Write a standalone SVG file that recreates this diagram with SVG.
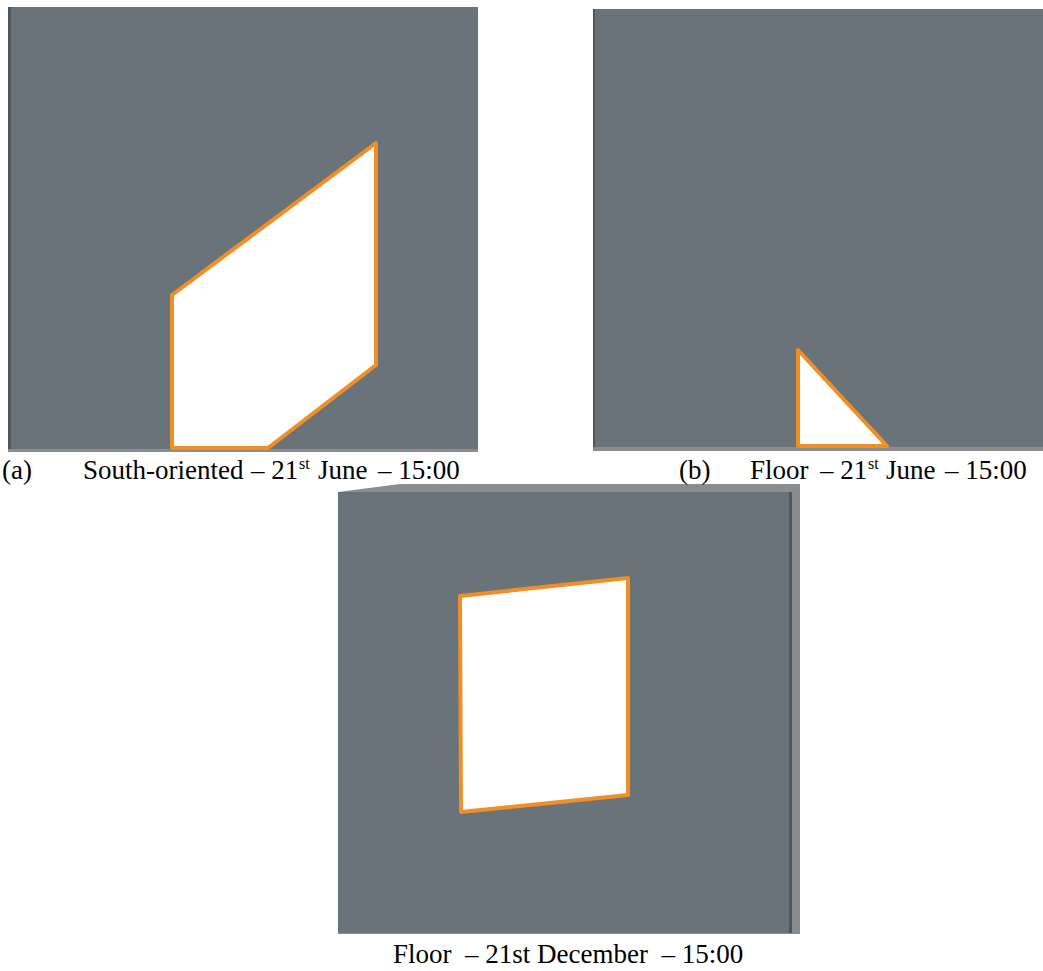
<svg xmlns="http://www.w3.org/2000/svg" width="1043" height="971" viewBox="0 0 1043 971">
<style>
.bg{fill:#6b737a}
.edge{fill:#4f565c}
.shadow{fill:#8a8c8e}
.sun{fill:#ffffff;stroke:#ef8f26;stroke-width:4;stroke-linejoin:round}
.t{font-family:"Liberation Serif",serif;font-size:27px;fill:#000}
.sup{font-family:"Liberation Serif",serif;font-size:16px;fill:#000}
</style>
<rect width="1043" height="971" fill="#ffffff"/>
<g id="panel-a">
<rect class="shadow" x="8" y="448" width="470" height="4"/>
<rect class="bg" x="8" y="7" width="470" height="442"/>
<rect class="edge" x="8" y="7" width="3" height="442"/>
<polygon class="sun" points="172,295 376,143 376,365 268,448 172,448"/>
</g>
<g id="panel-b">
<rect class="shadow" x="593" y="446" width="450" height="5"/>
<rect class="bg" x="593" y="9" width="450" height="438"/>
<rect class="edge" x="593" y="9" width="2" height="438"/>
<polygon class="sun" points="798,350 798,446 887,446"/>
</g>
<g id="panel-c">
<polygon class="shadow" points="338,492 400,484 800,484 800,934 338,934"/>
<rect class="bg" x="338" y="492" width="454" height="441"/>
<rect class="edge" x="789" y="492" width="3" height="441"/>
<polygon class="sun" points="460,596 628,578 628,795 461,812"/>
</g>
<g id="labels">
<text class="t" x="2" y="479">(a)</text>
<text class="t" x="83" y="479">South-oriented</text>
<text class="t" x="251" y="479">– 21</text>
<text class="sup" x="299" y="469">st</text>
<text class="t" x="318" y="479">June</text>
<text class="t" x="378" y="479">– 15:00</text>

<text class="t" x="679" y="479">(b)</text>
<text class="t" x="750" y="479">Floor</text>
<text class="t" x="820" y="479">– 21</text>
<text class="sup" x="868" y="469">st</text>
<text class="t" x="886" y="479">June</text>
<text class="t" x="945" y="479">– 15:00</text>

<text class="t" x="393" y="963" xml:space="preserve">Floor  – 21st December  – 15:00</text>
</g>
</svg>
